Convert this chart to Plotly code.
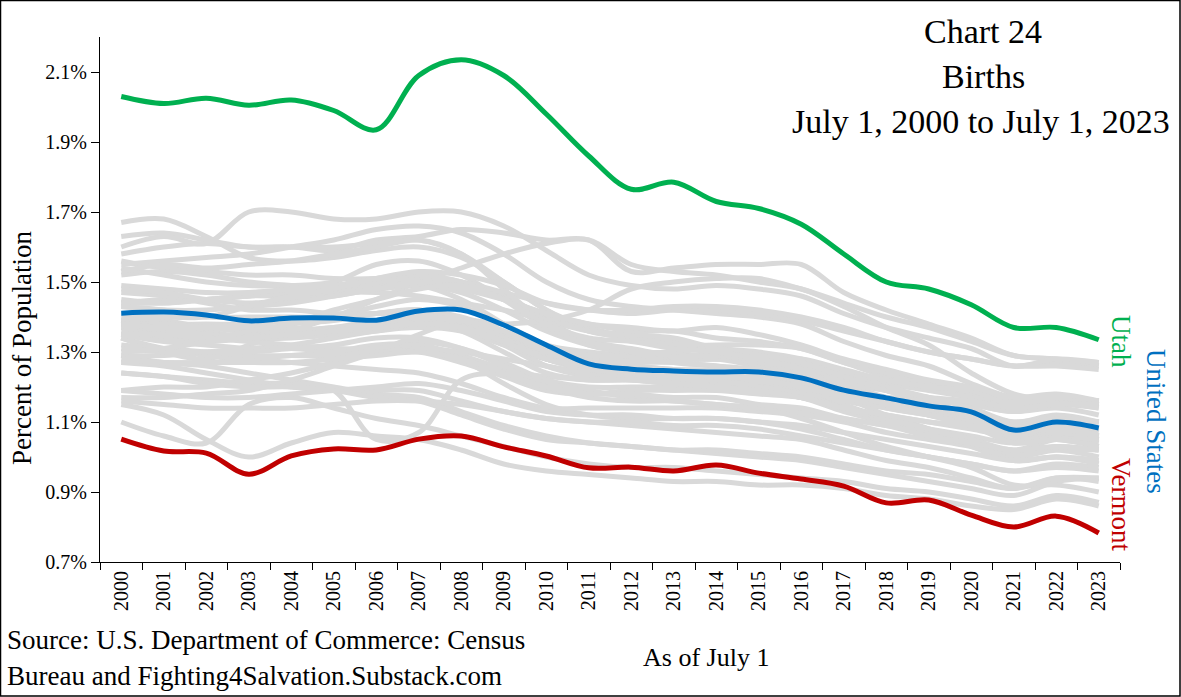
import plotly.graph_objects as go

# Births as a percent of population, July 1 2000 to July 1 2023

years = [str(y) for y in range(2000, 2024)]

utah = [2.03, 2.01, 2.025, 2.005, 2.02, 1.99, 1.935, 2.09, 2.135, 2.09, 1.98, 1.86,
        1.765, 1.785, 1.73, 1.71, 1.665, 1.58, 1.50, 1.48, 1.435, 1.37, 1.37, 1.335]
united_states = [1.411, 1.414, 1.406, 1.389, 1.397, 1.397, 1.391, 1.417, 1.42, 1.377, 1.32, 1.266,
                 1.251, 1.246, 1.243, 1.243, 1.226, 1.191, 1.169, 1.146, 1.129, 1.077, 1.10, 1.083]
vermont = [1.051, 1.017, 1.011, 0.951, 1.003, 1.023, 1.02, 1.051, 1.06, 1.029, 1.003, 0.969,
           0.971, 0.96, 0.977, 0.954, 0.937, 0.917, 0.869, 0.877, 0.834, 0.80, 0.831, 0.783]

# the other states (drawn in gray)
alabama = [1.39, 1.38, 1.36, 1.34, 1.34, 1.35, 1.37, 1.39, 1.37, 1.32, 1.26, 1.24, 1.23, 1.22, 1.22, 1.22, 1.21, 1.19, 1.17, 1.16, 1.15, 1.13, 1.15, 1.14]
alaska = [1.58, 1.60, 1.61, 1.60, 1.60, 1.59, 1.62, 1.63, 1.65, 1.64, 1.62, 1.62, 1.53, 1.54, 1.55, 1.55, 1.55, 1.47, 1.42, 1.38, 1.34, 1.29, 1.28, 1.26]
arizona = [1.67, 1.68, 1.63, 1.57, 1.56, 1.57, 1.59, 1.60, 1.57, 1.50, 1.42, 1.37, 1.34, 1.32, 1.31, 1.30, 1.28, 1.24, 1.20, 1.16, 1.12, 1.07, 1.08, 1.06]
arkansas = [1.39, 1.38, 1.38, 1.38, 1.39, 1.40, 1.43, 1.45, 1.43, 1.38, 1.32, 1.30, 1.29, 1.28, 1.28, 1.28, 1.27, 1.24, 1.21, 1.20, 1.19, 1.16, 1.17, 1.16]
california = [1.56, 1.54, 1.53, 1.52, 1.52, 1.51, 1.51, 1.52, 1.50, 1.46, 1.40, 1.36, 1.34, 1.33, 1.31, 1.28, 1.25, 1.21, 1.17, 1.14, 1.10, 1.05, 1.05, 1.03]
colorado = [1.52, 1.53, 1.52, 1.50, 1.49, 1.48, 1.48, 1.49, 1.47, 1.42, 1.36, 1.32, 1.30, 1.28, 1.28, 1.27, 1.25, 1.20, 1.16, 1.13, 1.10, 1.06, 1.07, 1.06]
connecticut = [1.29, 1.27, 1.26, 1.24, 1.22, 1.20, 1.18, 1.17, 1.13, 1.09, 1.06, 1.04, 1.03, 1.02, 1.01, 1.00, 0.99, 0.97, 0.95, 0.93, 0.91, 0.89, 0.93, 0.94]
delaware = [1.40, 1.39, 1.37, 1.36, 1.36, 1.37, 1.39, 1.40, 1.38, 1.33, 1.26, 1.23, 1.22, 1.21, 1.20, 1.19, 1.17, 1.13, 1.10, 1.08, 1.06, 1.04, 1.06, 1.05]
district_of_columbia = [1.34, 1.30, 1.28, 1.32, 1.36, 1.40, 1.45, 1.50, 1.54, 1.58, 1.61, 1.62, 1.55, 1.53, 1.52, 1.50, 1.48, 1.43, 1.37, 1.32, 1.24, 1.18, 1.16, 1.14]
florida = [1.27, 1.27, 1.27, 1.28, 1.29, 1.30, 1.32, 1.32, 1.28, 1.21, 1.15, 1.12, 1.11, 1.11, 1.11, 1.10, 1.08, 1.05, 1.02, 1.00, 0.98, 0.96, 0.98, 0.97]
georgia = [1.63, 1.64, 1.62, 1.60, 1.60, 1.60, 1.61, 1.62, 1.58, 1.50, 1.42, 1.36, 1.34, 1.32, 1.32, 1.32, 1.31, 1.27, 1.23, 1.20, 1.18, 1.14, 1.16, 1.15]
hawaii = [1.44, 1.45, 1.45, 1.46, 1.46, 1.47, 1.47, 1.46, 1.44, 1.42, 1.39, 1.36, 1.35, 1.34, 1.31, 1.29, 1.27, 1.23, 1.19, 1.15, 1.11, 1.06, 1.06, 1.04]
idaho = [1.55, 1.56, 1.57, 1.58, 1.60, 1.62, 1.65, 1.66, 1.64, 1.58, 1.50, 1.45, 1.43, 1.42, 1.41, 1.40, 1.38, 1.33, 1.29, 1.26, 1.21, 1.17, 1.17, 1.15]
illinois = [1.47, 1.46, 1.44, 1.42, 1.42, 1.41, 1.41, 1.42, 1.39, 1.34, 1.28, 1.25, 1.24, 1.24, 1.23, 1.21, 1.19, 1.15, 1.11, 1.08, 1.05, 1.01, 1.03, 1.02]
indiana = [1.43, 1.42, 1.40, 1.40, 1.40, 1.40, 1.41, 1.41, 1.39, 1.35, 1.30, 1.28, 1.28, 1.28, 1.28, 1.28, 1.26, 1.24, 1.21, 1.19, 1.17, 1.15, 1.16, 1.15]
iowa = [1.29, 1.29, 1.30, 1.31, 1.32, 1.34, 1.36, 1.37, 1.36, 1.32, 1.28, 1.27, 1.28, 1.28, 1.28, 1.26, 1.25, 1.22, 1.19, 1.17, 1.15, 1.13, 1.14, 1.12]
kansas = [1.45, 1.44, 1.45, 1.46, 1.47, 1.47, 1.49, 1.51, 1.49, 1.45, 1.41, 1.38, 1.36, 1.36, 1.34, 1.33, 1.31, 1.27, 1.24, 1.21, 1.19, 1.16, 1.17, 1.16]
kentucky = [1.37, 1.36, 1.35, 1.35, 1.36, 1.37, 1.38, 1.39, 1.37, 1.33, 1.28, 1.26, 1.26, 1.25, 1.25, 1.25, 1.24, 1.21, 1.19, 1.17, 1.16, 1.14, 1.15, 1.15]
louisiana = [1.24, 1.23, 1.22, 1.21, 1.21, 1.19, 1.05, 1.07, 1.22, 1.24, 1.23, 1.22, 1.22, 1.21, 1.21, 1.20, 1.19, 1.16, 1.14, 1.12, 1.10, 1.08, 1.09, 1.08]
maine = [1.10, 1.06, 1.04, 1.15, 1.17, 1.14, 1.11, 1.09, 1.06, 1.03, 1.00, 0.98, 0.97, 0.97, 0.96, 0.95, 0.94, 0.93, 0.91, 0.90, 0.88, 0.86, 0.89, 0.87]
maryland = [1.38, 1.37, 1.37, 1.36, 1.36, 1.35, 1.36, 1.38, 1.37, 1.34, 1.29, 1.27, 1.26, 1.25, 1.24, 1.23, 1.21, 1.18, 1.15, 1.13, 1.11, 1.07, 1.10, 1.10]
massachusetts = [1.27, 1.26, 1.24, 1.22, 1.20, 1.19, 1.19, 1.19, 1.16, 1.13, 1.11, 1.10, 1.09, 1.08, 1.07, 1.06, 1.05, 1.02, 0.99, 0.97, 0.94, 0.91, 0.94, 0.94]
michigan = [1.34, 1.31, 1.29, 1.28, 1.27, 1.26, 1.25, 1.24, 1.21, 1.17, 1.14, 1.14, 1.14, 1.14, 1.14, 1.13, 1.12, 1.10, 1.07, 1.05, 1.03, 1.00, 1.02, 1.02]
minnesota = [1.37, 1.37, 1.37, 1.38, 1.39, 1.40, 1.41, 1.42, 1.40, 1.36, 1.31, 1.29, 1.29, 1.29, 1.29, 1.27, 1.26, 1.23, 1.20, 1.17, 1.14, 1.10, 1.12, 1.10]
mississippi = [1.54, 1.52, 1.50, 1.49, 1.49, 1.50, 1.55, 1.56, 1.52, 1.45, 1.37, 1.33, 1.31, 1.29, 1.29, 1.28, 1.28, 1.25, 1.22, 1.20, 1.19, 1.15, 1.17, 1.16]
missouri = [1.35, 1.34, 1.33, 1.34, 1.35, 1.36, 1.38, 1.39, 1.37, 1.33, 1.28, 1.26, 1.25, 1.24, 1.24, 1.23, 1.21, 1.18, 1.16, 1.14, 1.12, 1.10, 1.11, 1.10]
montana = [1.19, 1.20, 1.20, 1.22, 1.24, 1.27, 1.31, 1.33, 1.31, 1.27, 1.22, 1.20, 1.20, 1.20, 1.20, 1.19, 1.17, 1.14, 1.10, 1.07, 1.04, 1.01, 1.02, 1.00]
nebraska = [1.44, 1.44, 1.45, 1.46, 1.47, 1.48, 1.50, 1.51, 1.50, 1.47, 1.44, 1.42, 1.41, 1.42, 1.42, 1.41, 1.39, 1.36, 1.33, 1.30, 1.28, 1.26, 1.27, 1.26]
nevada = [1.53, 1.55, 1.54, 1.55, 1.56, 1.58, 1.60, 1.62, 1.58, 1.48, 1.38, 1.32, 1.30, 1.30, 1.31, 1.29, 1.27, 1.23, 1.19, 1.15, 1.11, 1.06, 1.07, 1.05]
new_hampshire = [1.15, 1.12, 1.05, 1.00, 1.04, 1.07, 1.06, 1.05, 1.02, 0.98, 0.96, 0.95, 0.94, 0.93, 0.93, 0.92, 0.92, 0.91, 0.89, 0.88, 0.86, 0.85, 0.88, 0.86]
new_jersey = [1.36, 1.35, 1.34, 1.33, 1.32, 1.31, 1.31, 1.32, 1.29, 1.25, 1.21, 1.19, 1.17, 1.16, 1.15, 1.14, 1.13, 1.11, 1.09, 1.07, 1.05, 1.02, 1.05, 1.05]
new_mexico = [1.49, 1.48, 1.47, 1.47, 1.48, 1.49, 1.51, 1.52, 1.50, 1.45, 1.39, 1.33, 1.30, 1.27, 1.26, 1.24, 1.21, 1.17, 1.12, 1.08, 1.03, 0.99, 1.00, 0.98]
new_york = [1.35, 1.33, 1.32, 1.31, 1.31, 1.30, 1.30, 1.31, 1.30, 1.28, 1.26, 1.24, 1.23, 1.22, 1.22, 1.20, 1.18, 1.14, 1.11, 1.08, 1.04, 0.99, 1.00, 0.99]
north_carolina = [1.48, 1.47, 1.45, 1.44, 1.45, 1.46, 1.48, 1.49, 1.45, 1.38, 1.31, 1.27, 1.25, 1.24, 1.23, 1.23, 1.21, 1.18, 1.16, 1.14, 1.12, 1.09, 1.11, 1.10]
north_dakota = [1.17, 1.17, 1.18, 1.19, 1.22, 1.26, 1.30, 1.35, 1.39, 1.38, 1.39, 1.42, 1.48, 1.50, 1.51, 1.51, 1.48, 1.44, 1.40, 1.37, 1.33, 1.29, 1.28, 1.27]
ohio = [1.32, 1.31, 1.30, 1.29, 1.29, 1.29, 1.30, 1.30, 1.27, 1.23, 1.19, 1.18, 1.19, 1.19, 1.19, 1.18, 1.17, 1.14, 1.12, 1.10, 1.08, 1.06, 1.08, 1.07]
oklahoma = [1.43, 1.42, 1.42, 1.43, 1.44, 1.46, 1.48, 1.50, 1.48, 1.45, 1.41, 1.38, 1.37, 1.36, 1.37, 1.35, 1.32, 1.28, 1.25, 1.22, 1.20, 1.17, 1.18, 1.16]
oregon = [1.31, 1.30, 1.30, 1.30, 1.31, 1.32, 1.34, 1.34, 1.31, 1.26, 1.20, 1.17, 1.16, 1.16, 1.15, 1.14, 1.11, 1.07, 1.03, 1.00, 0.97, 0.92, 0.92, 0.90]
pennsylvania = [1.19, 1.18, 1.17, 1.17, 1.18, 1.19, 1.20, 1.21, 1.19, 1.16, 1.13, 1.12, 1.12, 1.11, 1.11, 1.10, 1.09, 1.07, 1.05, 1.03, 1.01, 0.99, 1.00, 0.99]
rhode_island = [1.24, 1.23, 1.21, 1.20, 1.20, 1.19, 1.17, 1.16, 1.12, 1.08, 1.05, 1.04, 1.03, 1.02, 1.02, 1.01, 1.00, 0.98, 0.96, 0.95, 0.93, 0.91, 0.94, 0.93]
south_carolina = [1.39, 1.37, 1.35, 1.34, 1.35, 1.36, 1.38, 1.39, 1.36, 1.30, 1.24, 1.22, 1.22, 1.21, 1.20, 1.19, 1.17, 1.14, 1.12, 1.10, 1.09, 1.07, 1.09, 1.08]
south_dakota = [1.41, 1.40, 1.40, 1.43, 1.46, 1.48, 1.51, 1.53, 1.52, 1.49, 1.44, 1.42, 1.42, 1.43, 1.43, 1.42, 1.40, 1.37, 1.33, 1.30, 1.28, 1.26, 1.26, 1.25]
tennessee = [1.38, 1.38, 1.37, 1.36, 1.38, 1.39, 1.41, 1.42, 1.39, 1.34, 1.28, 1.25, 1.24, 1.23, 1.23, 1.23, 1.22, 1.19, 1.17, 1.16, 1.16, 1.14, 1.15, 1.15]
texas = [1.60, 1.63, 1.61, 1.70, 1.70, 1.68, 1.68, 1.70, 1.70, 1.66, 1.59, 1.52, 1.49, 1.48, 1.49, 1.48, 1.46, 1.41, 1.37, 1.34, 1.31, 1.26, 1.28, 1.27]
virginia = [1.38, 1.37, 1.37, 1.37, 1.37, 1.36, 1.37, 1.38, 1.37, 1.33, 1.28, 1.26, 1.25, 1.24, 1.23, 1.22, 1.20, 1.17, 1.14, 1.12, 1.10, 1.07, 1.09, 1.08]
washington = [1.35, 1.35, 1.34, 1.34, 1.35, 1.36, 1.38, 1.40, 1.39, 1.36, 1.30, 1.27, 1.27, 1.27, 1.26, 1.25, 1.23, 1.19, 1.15, 1.12, 1.09, 1.04, 1.05, 1.03]
west_virginia = [1.16, 1.15, 1.14, 1.14, 1.14, 1.15, 1.16, 1.16, 1.15, 1.13, 1.11, 1.10, 1.10, 1.09, 1.09, 1.08, 1.06, 1.04, 1.02, 1.00, 0.98, 0.96, 0.97, 0.96]
wisconsin = [1.28, 1.27, 1.27, 1.27, 1.27, 1.28, 1.29, 1.30, 1.28, 1.24, 1.20, 1.18, 1.18, 1.17, 1.17, 1.15, 1.14, 1.11, 1.09, 1.06, 1.04, 1.02, 1.03, 1.02]
wyoming = [1.30, 1.31, 1.33, 1.36, 1.38, 1.42, 1.45, 1.48, 1.49, 1.45, 1.38, 1.34, 1.33, 1.31, 1.30, 1.28, 1.25, 1.19, 1.15, 1.12, 1.09, 1.07, 1.08, 1.06]

other_states = [alabama, alaska, arizona, arkansas, california, colorado, connecticut,
                delaware, district_of_columbia, florida, georgia, hawaii, idaho, illinois,
                indiana, iowa, kansas, kentucky, louisiana, maine, maryland, massachusetts,
                michigan, minnesota, mississippi, missouri, montana, nebraska, nevada,
                new_hampshire, new_jersey, new_mexico, new_york, north_carolina, north_dakota,
                ohio, oklahoma, oregon, pennsylvania, rhode_island, south_carolina,
                south_dakota, tennessee, texas, virginia, washington, west_virginia,
                wisconsin, wyoming]

GRAY = "#D9D9D9"
GREEN = "#00B050"
BLUE = "#0070C0"
RED = "#C00000"
FONT = "Liberation Serif"

W, H = 1181, 697
L, R, T, B = 100, 61, 37, 135


def px_x(px):
    return (px - L) / (W - L - R)


def px_y(py):
    return (H - B - py) / (H - T - B)


fig = go.Figure()

for state in other_states:
    fig.add_trace(go.Scatter(x=years, y=state, mode="lines",
                             line=dict(color=GRAY, width=5, shape="spline"),
                             hoverinfo="skip", showlegend=False))

for vals, color in [(vermont, RED), (united_states, BLUE), (utah, GREEN)]:
    fig.add_trace(go.Scatter(x=years, y=vals, mode="lines",
                             line=dict(color=color, width=5, shape="spline"),
                             showlegend=False))

annotations = [
    dict(text="Chart 24", x=px_x(983), y=px_y(31), size=34, color="black"),
    dict(text="Births", x=px_x(983), y=px_y(76), size=34, color="black"),
    dict(text="July 1, 2000 to July 1, 2023", x=px_x(981), y=px_y(121), size=34, color="black"),
    dict(text="Percent of Population", x=px_x(22), y=px_y(348), size=27, color="black", angle=-90),
    dict(text="As of July 1", x=px_x(706), y=px_y(657), size=26, color="black"),
    dict(text="Utah", x=px_x(1121), y=px_y(341), size=27, color=GREEN, angle=90),
    dict(text="United States", x=px_x(1156), y=px_y(421), size=27, color=BLUE, angle=90),
    dict(text="Vermont", x=px_x(1121), y=px_y(504), size=27, color=RED, angle=90),
]
for a in annotations:
    fig.add_annotation(text=a["text"], x=a["x"], y=a["y"], xref="paper", yref="paper",
                       xanchor="center", yanchor="middle", showarrow=False,
                       textangle=a.get("angle", 0),
                       font=dict(family=FONT, size=a["size"], color=a["color"]))

for text, py in [("Source: U.S. Department of Commerce: Census", 640),
                 ("Bureau and Fighting4Salvation.Substack.com", 676)]:
    fig.add_annotation(text=text, x=px_x(5), y=px_y(py), xref="paper", yref="paper",
                       xanchor="left", yanchor="middle", showarrow=False,
                       font=dict(family=FONT, size=27, color="black"))

# border round the whole picture
fig.add_shape(type="rect", xref="paper", yref="paper",
              x0=px_x(0.5), x1=px_x(W - 1), y0=px_y(H - 1), y1=px_y(0.5),
              line=dict(color="black", width=1.5))

fig.update_layout(
    width=W, height=H,
    margin=dict(l=L, r=R, t=T, b=B),
    paper_bgcolor="white", plot_bgcolor="white",
    font=dict(family=FONT, color="black"),
    xaxis=dict(type="category", range=[-0.5, 23.5], tickangle=-90,
               tickson="boundaries", ticks="outside", ticklen=7, tickcolor="black",
               showline=True, linecolor="black", linewidth=1, showgrid=False,
               zeroline=False, tickfont=dict(family=FONT, size=20)),
    yaxis=dict(range=[0.7, 2.2], tick0=0.7, dtick=0.2, tickformat=".1f", ticksuffix="%",
               ticks="outside", ticklen=8, tickcolor="black",
               showline=True, linecolor="black", linewidth=1, showgrid=False,
               zeroline=False, tickfont=dict(family=FONT, size=20)),
)

fig.write_html("out.html", config={"displayModeBar": False},
               post_script="document.body.style.margin='0';")
